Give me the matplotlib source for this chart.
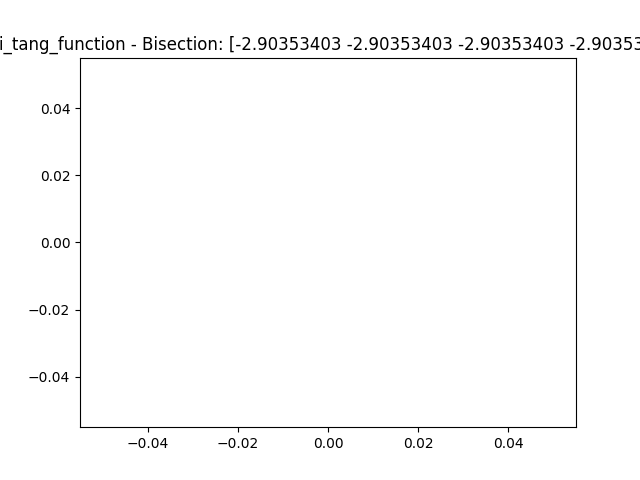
import matplotlib
matplotlib.use("Agg")
import matplotlib.pyplot as plt

func_name = "styblinski_tang_function"
method = "Bisection"
roots = [-2.90353403, -2.90353403, -2.90353403, -2.90353403]
xs = []
ys = []

fig, ax = plt.subplots(figsize=(6.4, 4.8), dpi=100)
ax.plot(xs, ys)
ax.set_title(f"{func_name} - {method}: [" + " ".join(f"{r:.8f}" for r in roots) + "]",
             x=0.5 - 24 / 496)
fig.savefig("out.png")
